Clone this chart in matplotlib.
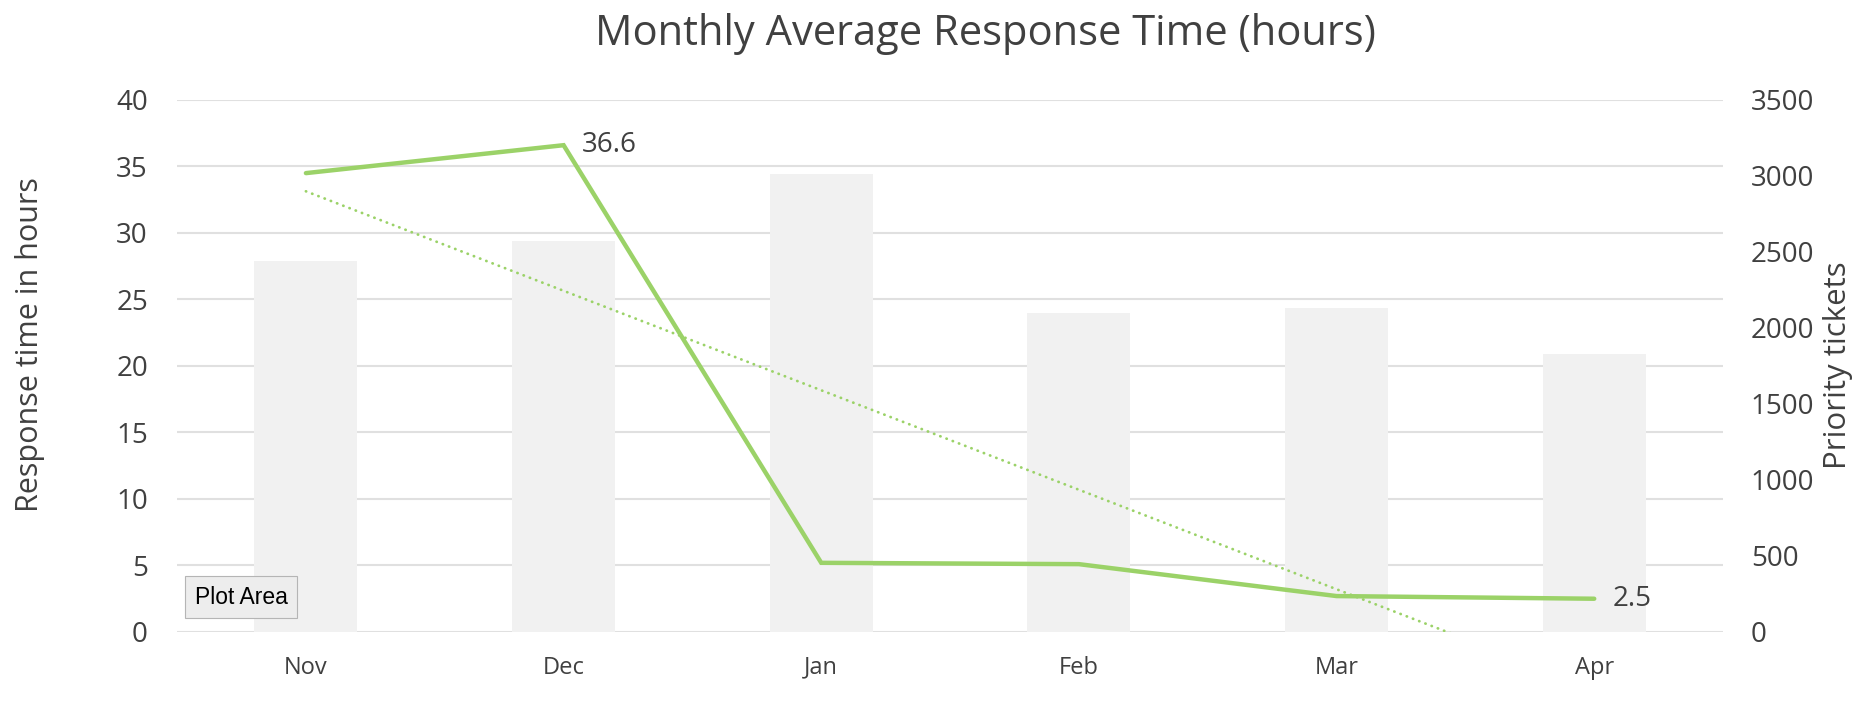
import numpy as np
import matplotlib
matplotlib.use("Agg")
from matplotlib import pyplot as plt

# data
months = ["Nov", "Dec", "Jan", "Feb", "Mar", "Apr"]
response_hours = [34.5, 36.6, 5.2, 5.1, 2.7, 2.5]
priority_tickets = [2440, 2570, 3010, 2100, 2130, 1830]
left_ticks = [0, 5, 10, 15, 20, 25, 30, 35, 40]
right_ticks = [0, 500, 1000, 1500, 2000, 2500, 3000, 3500]

green = "#9BD268"
bar_grey = "#F1F1F1"
grid_grey = "#E0E0E0"
text_col = "#404040"

plt.rcParams["font.family"] = ["Open Sans", "DejaVu Sans"]

fig = plt.figure(figsize=(18.66, 7.26), dpi=100)
x = np.arange(len(months))

# base axes: gridlines + left ticks
ax = fig.add_axes([0.0949, 0.1295, 0.8285, 0.7328])
ax.set_xlim(-0.5, len(months) - 0.5)
ax.set_ylim(0, 40)
ax.set_yticks(left_ticks)
ax.grid(axis="y", color=grid_grey, linewidth=1.5)
ax.set_axisbelow(True)
ax.set_xticks(x)
ax.set_xticklabels(months)
ax.tick_params(axis="x", length=0, pad=17, labelsize=17, labelcolor=text_col)
ax.tick_params(axis="y", length=0, pad=21, labelsize=20, labelcolor=text_col)
for s in ax.spines.values():
    s.set_visible(False)

# bars on the right axis
ax2 = ax.twinx()
ax2.bar(x, priority_tickets, width=0.4, color=bar_grey, zorder=2)
ax2.set_ylim(0, 3500)
ax2.set_yticks(right_ticks)
ax2.tick_params(axis="y", length=0, pad=20, labelsize=20, labelcolor=text_col)
for s in ax2.spines.values():
    s.set_visible(False)

# line + trend on top
ax3 = ax.twinx()
ax3.set_ylim(0, 40)
ax3.set_yticks([])
for s in ax3.spines.values():
    s.set_visible(False)
ax3.plot(x, response_hours, color=green, linewidth=3.2, solid_capstyle="round",
         solid_joinstyle="miter", zorder=3)
coef = np.polyfit(x, response_hours, 1)
ax3.plot(x, np.polyval(coef, x), color=green, linewidth=2,
         linestyle=(0, (0.1, 2.3)), dash_capstyle="round", zorder=3)
ax3.annotate("36.6", (x[1], response_hours[1]), xytext=(13, 0),
             textcoords="offset points", ha="left", va="center",
             fontsize=20, color=text_col)
ax3.annotate("2.5", (x[-1], response_hours[-1]), xytext=(13, 0),
             textcoords="offset points", ha="left", va="center",
             fontsize=20, color=text_col)

fig.text(985 / 1866, 1 - 34 / 726, "Monthly Average Response Time (hours)",
         ha="center", va="center", fontsize=30, color=text_col)
fig.text(30 / 1866, 1 - 345 / 726, "Response time in hours", rotation=90,
         ha="center", va="center", fontsize=22, color=text_col)
fig.text(1838 / 1866, 1 - 365 / 726, "Priority tickets", rotation=90,
         ha="center", va="center", fontsize=22.5, color=text_col)

# the "Plot Area" tooltip visible in the screenshot
fig.text(241 / 1866, 1 - 597 / 726, "Plot Area", ha="center", va="center",
         fontsize=16.5, family=["Liberation Sans", "DejaVu Sans"], color="black",
         bbox=dict(boxstyle="square,pad=0.4", fc="#EDEDED", ec="#B5B5B5", lw=0.8))

fig.savefig("out.png", dpi=100, facecolor="white")
